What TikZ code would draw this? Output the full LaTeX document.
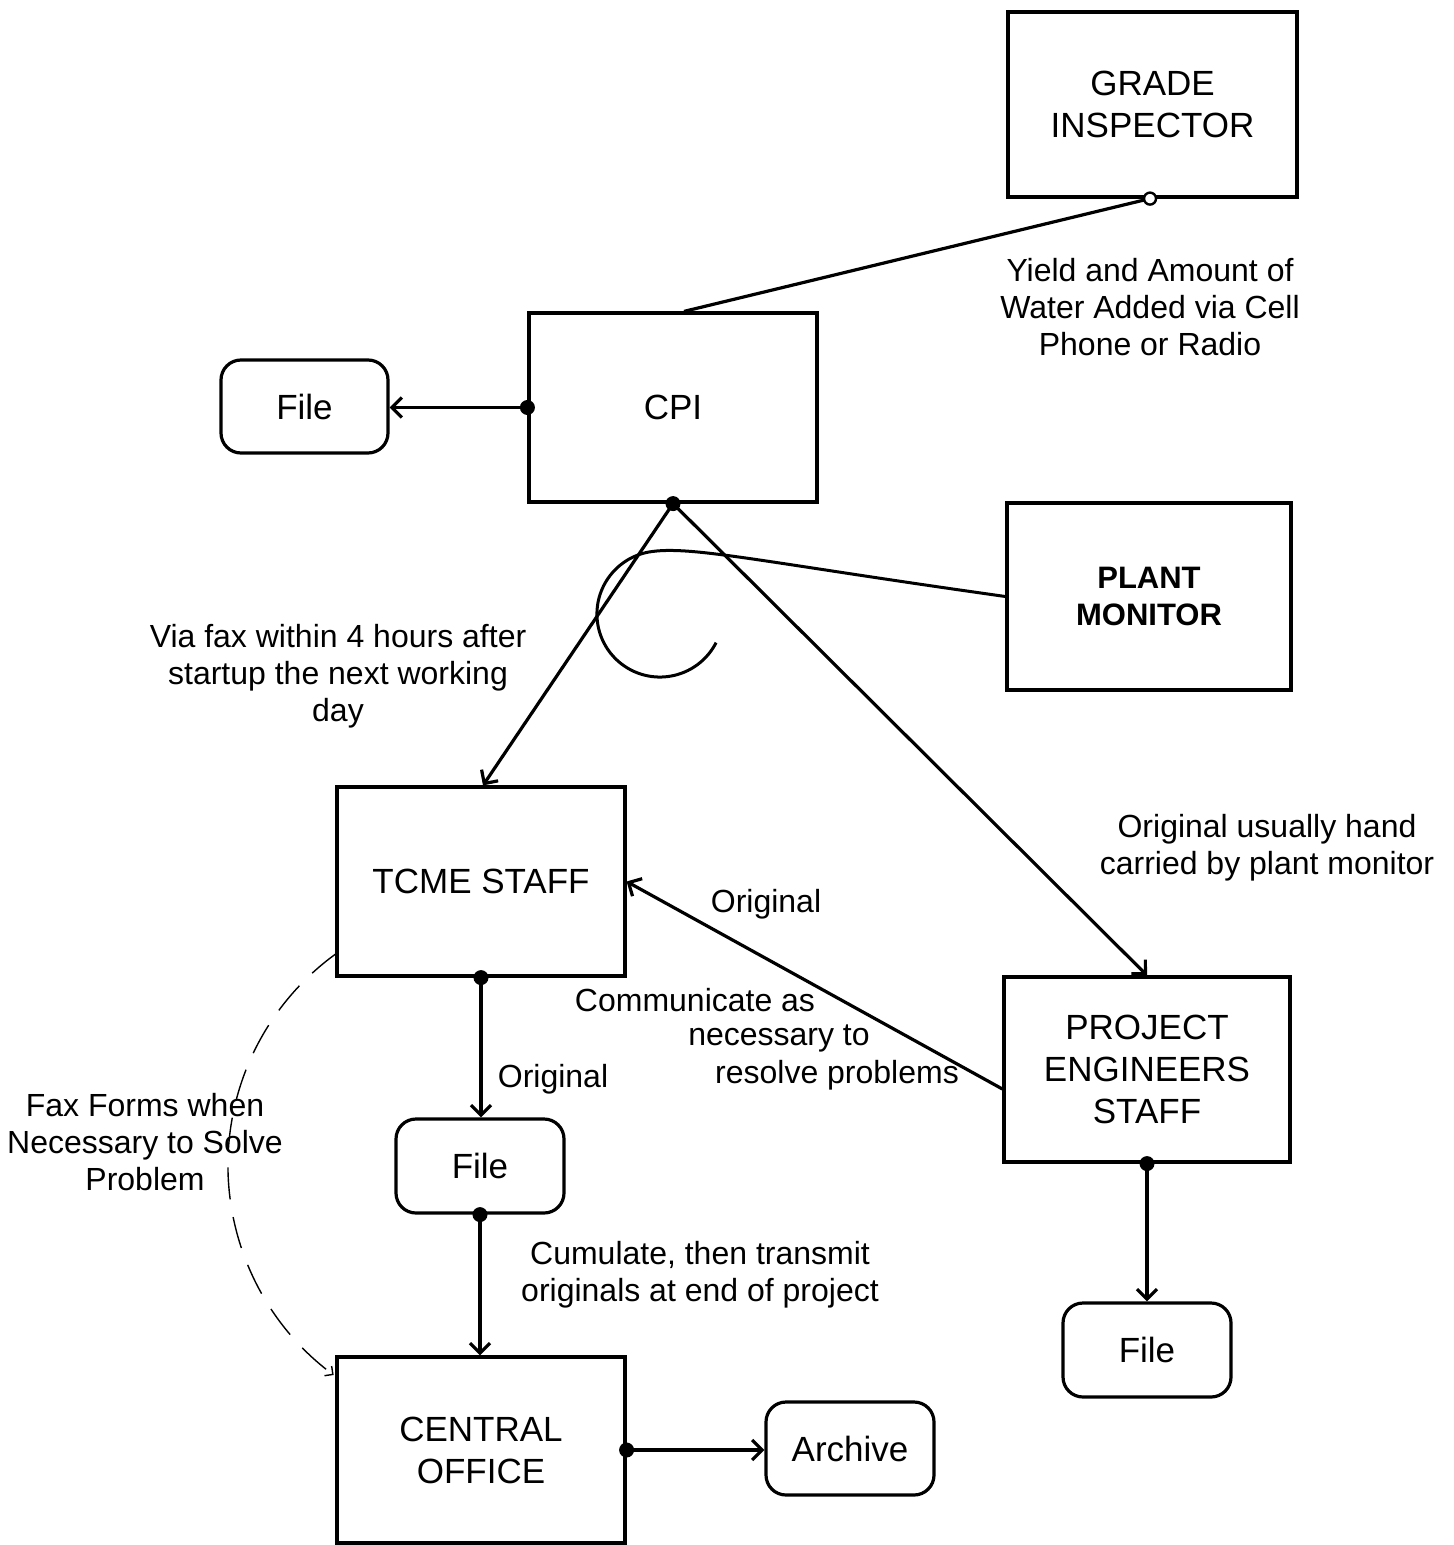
\documentclass[tikz,border=0pt]{standalone}
\usepackage{fontspec}
\setmainfont{Liberation Sans}
\usetikzlibrary{arrows.meta,calc}
\begin{document}
\begin{tikzpicture}[x=0.5pt,y=0.5pt,
  box/.style={draw,line width=1.6pt,inner sep=0pt,align=center,font=\fontsize{17.5}{21}\selectfont},
  rbox/.style={box,rounded corners=10pt},
  lbl/.style={align=center,inner sep=0pt,font=\fontsize{16}{18.5}\selectfont},
  conn/.style={line width=1.6pt},
  arr/.style={conn,-{Straight Barb[length=5pt,width=10pt,line width=1.6pt]}},
  dot/.style={fill=black}]
\useasboundingbox (0,0) rectangle (1453,-1545);
\fill[white] (0,0) rectangle (1453,-1545);
% boxes
\node[box,minimum width=144.5pt,minimum height=92.5pt] (gi) at (1152.5,-104.5) {GRADE\\INSPECTOR};
\node[box,minimum width=144pt,minimum height=94.5pt] (cpi) at (673,-407.5) {CPI};
\node[rbox,minimum width=83.5pt,minimum height=46.5pt] (file1) at (304.5,-406.5) {File};
\node[box,minimum width=142pt,minimum height=93.5pt,font=\bfseries\fontsize{15.5}{18.5}\selectfont] (pm) at (1149,-596.5) {PLANT\\MONITOR};
\node[box,minimum width=144pt,minimum height=94.5pt] (tcme) at (481,-881.5) {TCME STAFF};
\node[box,minimum width=143pt,minimum height=92.5pt] (pe) at (1147,-1069.5) {PROJECT\\ENGINEERS\\STAFF};
\node[rbox,minimum width=84pt,minimum height=47pt] (file2) at (480,-1166) {File};
\node[rbox,minimum width=84pt,minimum height=47pt] (file3) at (1147,-1350) {File};
\node[box,minimum width=144pt,minimum height=93pt] (co) at (481,-1450) {CENTRAL\\OFFICE};
\node[rbox,minimum width=84pt,minimum height=46.5pt] (arch) at (850,-1448.5) {Archive};
% connectors
\coordinate (giA) at ([xshift=-1.25pt]gi.south);
\coordinate (cpiTop) at ([xshift=5.5pt]cpi.north);
\draw[conn] (giA) -- (cpiTop);
\draw[line width=1.2pt,fill=white] (giA) circle[radius=3pt];
\draw[arr] (cpi.west) -- (cpi.west -| file1.east);
\fill[dot] (cpi.west) circle[radius=3.75pt];
\draw[arr] (cpi.south) -- ([xshift=1pt]tcme.north);
\draw[arr] (cpi.south) -- (pe.north);
\fill[dot] (cpi.south) circle[radius=3.75pt];
\coordinate (arcStart) at (649,-552);
\draw[line width=1.5pt] (pm.west) .. controls (760,-562) and (690,-545) .. (arcStart)
  arc[start angle=100,end angle=333,radius=63];
\draw[arr] ([yshift=-9.75pt]pe.west) -- (tcme.east);
\draw[arr] (tcme.south) -- (tcme.south |- file2.north);
\fill[dot] (tcme.south) circle[radius=3.75pt];
\draw[arr] (file2.south) -- (file2.south |- co.north);
\fill[dot] (file2.south) circle[radius=3.75pt];
\draw[arr] (co.east) -- (co.east -| arch.west);
\fill[dot] (co.east) circle[radius=3.75pt];
\draw[arr] (pe.south) -- (file3.north);
\fill[dot] (pe.south) circle[radius=3.75pt];
\coordinate (faxStart) at (337,-953);
\draw[line width=0.7pt,dash pattern=on 16pt off 9pt,-{Straight Barb[length=3pt,width=6pt]}] (faxStart) arc[start angle=125.6,end angle=233.5,radius=261];
% labels
\node[lbl] (l1) at (1150,-307) {Yield and Amount of\\Water Added via Cell\\Phone or Radio};
\node[lbl] (l2) at (338,-676) {Via fax within 4 hours after\\startup the next working\\day};
\node[lbl] (l3) at (1267,-848) {Original usually hand\\carried by plant monitor};
\node[lbl] (l4) at (766,-904) {Original};
\node[lbl] (l5) at (695,-1000) {Communicate as};
\node[lbl] (l6) at (779,-1038) {necessary to};
\node[lbl] (l7) at (837,-1075) {resolve problems};
\node[lbl] (l8) at (553,-1079) {Original};
\node[lbl] (l9) at (700,-1275) {Cumulate, then transmit\\originals at end of project};
\node[lbl] (l10) at (145,-1142) {Fax Forms when\\Necessary to Solve\\Problem};
\end{tikzpicture}
\end{document}
